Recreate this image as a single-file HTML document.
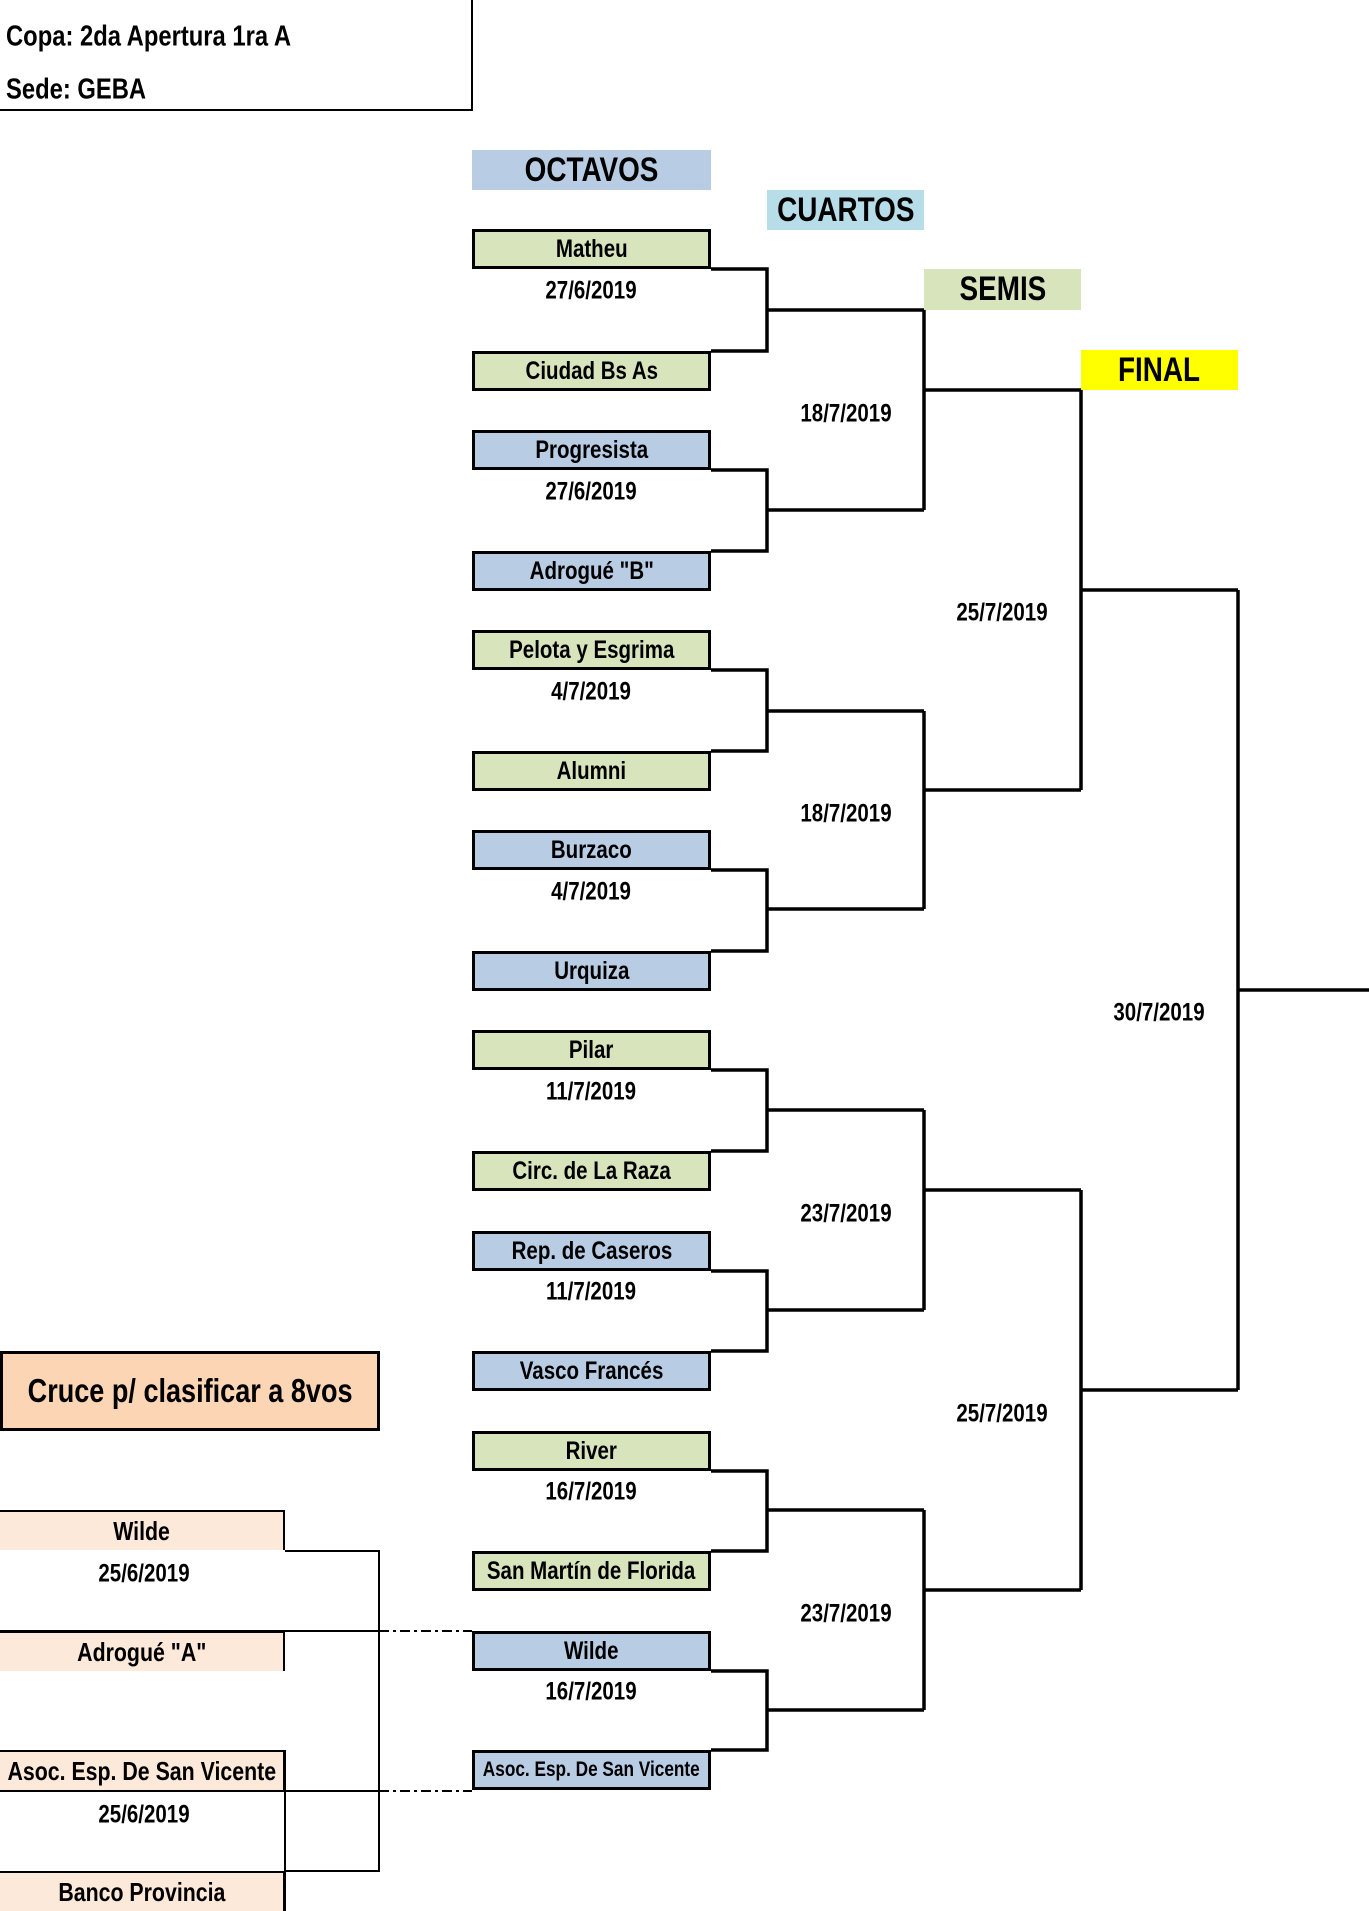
<!DOCTYPE html>
<html><head><meta charset="utf-8"><style>
body{margin:0;width:1369px;height:1911px;background:#fff;position:relative;overflow:hidden;font-family:"Liberation Sans",sans-serif;font-weight:bold;color:#000}
.b{position:absolute;box-sizing:border-box;display:flex;align-items:center;justify-content:center;white-space:nowrap}
.b span{display:inline-block;transform:scaleX(.82)}
.t{position:absolute;left:472px;width:239px;height:40px;border:3px solid #000;font-size:25px}
.g{background:#d8e4bc}.u{background:#b8cce4}
.d{position:absolute;font-size:25px;transform:translate(-50%,-50%) scaleX(.82);white-space:nowrap}
.h{font-size:34px}
.l{position:absolute;left:0;width:285px;height:40px;background:#fde9d9;border-top:2px solid #000;border-right:2px solid #000;font-size:26px}
</style></head><body>
<div class="d" style="left:6px;top:37px;transform:translateY(-50%) scaleX(.82);transform-origin:left center;font-size:29px">Copa: 2da Apertura 1ra A</div>
<div class="d" style="left:6px;top:90px;transform:translateY(-50%) scaleX(.82);transform-origin:left center;font-size:29px">Sede: GEBA</div>

<div class="b h" style="left:472px;top:150px;width:239px;height:40px;background:#b8cce4"><span>OCTAVOS</span></div>
<div class="b h" style="left:767px;top:190px;width:157px;height:40px;background:#b7dde8"><span>CUARTOS</span></div>
<div class="b h" style="left:924px;top:269px;width:157px;height:41px;background:#d8e4bc"><span>SEMIS</span></div>
<div class="b h" style="left:1081px;top:350px;width:157px;height:40px;background:#ffff00"><span>FINAL</span></div>

<svg width="1369" height="1911" style="position:absolute;left:0;top:0" fill="none" stroke="#000">
<g stroke-width="2"><path d="M472 0V110H0"/></g>
<g stroke-width="3.5">
<path d="M711 269H767V351H711M767 310H924"/>
<path d="M711 470H767V551H711M767 510H924"/>
<path d="M711 670H767V751H711M767 711H924"/>
<path d="M711 870H767V951H711M767 909H924"/>
<path d="M711 1070H767V1151H711M767 1110H924"/>
<path d="M711 1271H767V1351H711M767 1310H924"/>
<path d="M711 1471H767V1551H711M767 1510H924"/>
<path d="M711 1671H767V1750H711M767 1710H924"/>
<path d="M924 310V510M924 390H1081"/>
<path d="M924 711V909M924 790H1081"/>
<path d="M924 1110V1310M924 1190H1081"/>
<path d="M924 1510V1710M924 1590H1081"/>
<path d="M1081 390V790M1081 590H1238"/>
<path d="M1081 1190V1590M1081 1390H1238"/>
<path d="M1238 590V1390M1238 990H1369"/>
</g>
<g stroke-width="2">
<path d="M285 1551H379V1871H285M0 1631H379M0 1791H379M285 1750V1911"/>
<path d="M379 1631H472M379 1791H472" stroke-dasharray="10 4 3 4"/>
</g>
</svg>

<div class="b t g" style="top:229px"><span>Matheu</span></div>
<div class="b t g" style="top:351px"><span>Ciudad Bs As</span></div>
<div class="b t u" style="top:430px"><span>Progresista</span></div>
<div class="b t u" style="top:551px"><span>Adrogué "B"</span></div>
<div class="b t g" style="top:630px"><span>Pelota y Esgrima</span></div>
<div class="b t g" style="top:751px"><span>Alumni</span></div>
<div class="b t u" style="top:830px"><span>Burzaco</span></div>
<div class="b t u" style="top:951px"><span>Urquiza</span></div>
<div class="b t g" style="top:1030px"><span>Pilar</span></div>
<div class="b t g" style="top:1151px"><span>Circ. de La Raza</span></div>
<div class="b t u" style="top:1231px"><span>Rep. de Caseros</span></div>
<div class="b t u" style="top:1351px"><span>Vasco Francés</span></div>
<div class="b t g" style="top:1431px"><span>River</span></div>
<div class="b t g" style="top:1551px"><span>San Martín de Florida</span></div>
<div class="b t u" style="top:1631px"><span>Wilde</span></div>
<div class="b t u" style="top:1750px;font-size:21px"><span>Asoc. Esp. De San Vicente</span></div>

<div class="d" style="left:591px;top:291px">27/6/2019</div>
<div class="d" style="left:591px;top:492px">27/6/2019</div>
<div class="d" style="left:591px;top:692px">4/7/2019</div>
<div class="d" style="left:591px;top:892px">4/7/2019</div>
<div class="d" style="left:591px;top:1092px">11/7/2019</div>
<div class="d" style="left:591px;top:1292px">11/7/2019</div>
<div class="d" style="left:591px;top:1492px">16/7/2019</div>
<div class="d" style="left:591px;top:1692px">16/7/2019</div>
<div class="d" style="left:846px;top:414px">18/7/2019</div>
<div class="d" style="left:846px;top:814px">18/7/2019</div>
<div class="d" style="left:846px;top:1214px">23/7/2019</div>
<div class="d" style="left:846px;top:1614px">23/7/2019</div>
<div class="d" style="left:1002px;top:613px">25/7/2019</div>
<div class="d" style="left:1002px;top:1414px">25/7/2019</div>
<div class="d" style="left:1159px;top:1013px">30/7/2019</div>

<div class="b" style="left:0;top:1351px;width:380px;height:80px;background:#fcd5b4;border:3px solid #000;font-size:33px"><span>Cruce p/ clasificar a 8vos</span></div>
<div class="b l" style="top:1510px"><span>Wilde</span></div>
<div class="b l" style="top:1631px"><span>Adrogué "A"</span></div>
<div class="b l" style="top:1750px"><span>Asoc. Esp. De San Vicente</span></div>
<div class="b l" style="top:1871px"><span>Banco Provincia</span></div>
<div class="d" style="left:144px;top:1574px">25/6/2019</div>
<div class="d" style="left:144px;top:1815px">25/6/2019</div>
</body></html>
